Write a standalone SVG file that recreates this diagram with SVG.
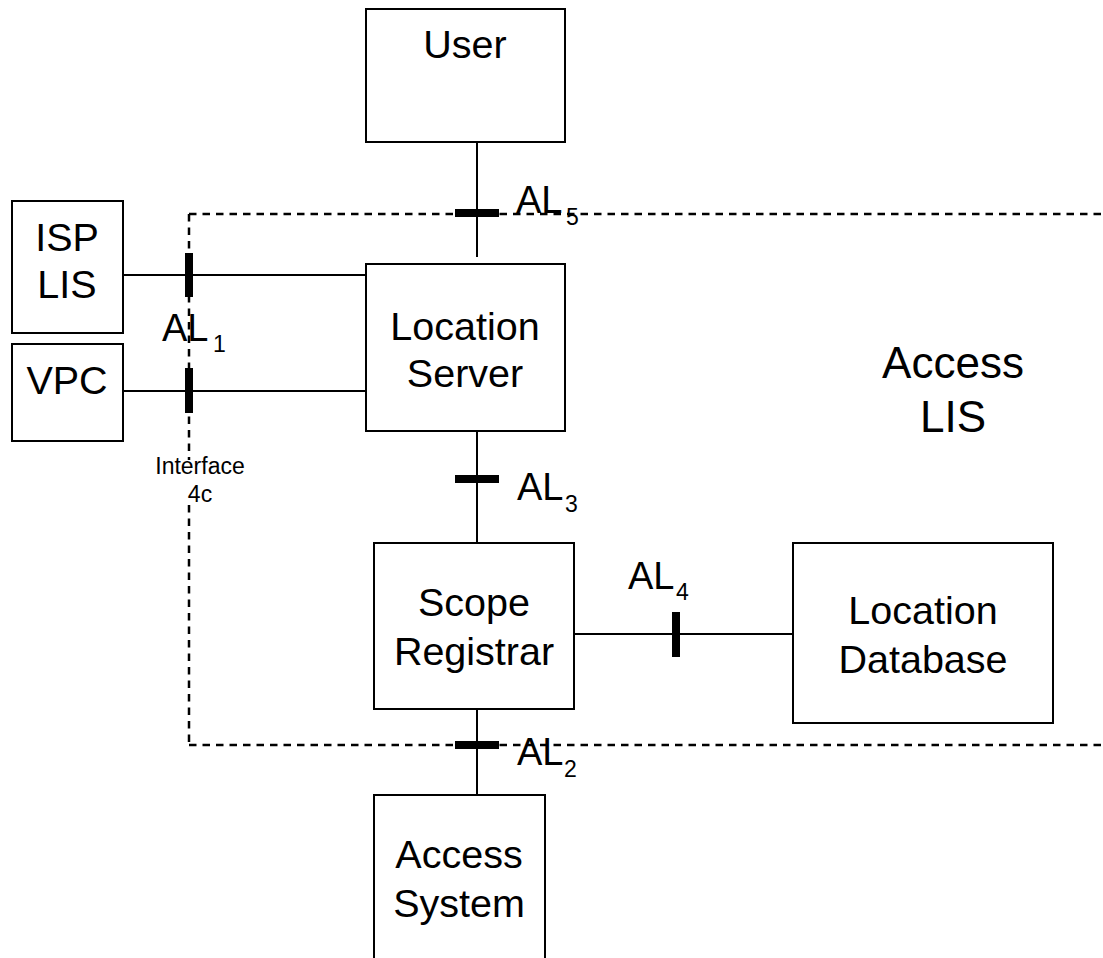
<svg xmlns="http://www.w3.org/2000/svg" width="1103" height="958" viewBox="0 0 1103 958">
<style>
  .box { fill: #ffffff; stroke: #000000; stroke-width: 2; }
  .lbl { font-family: "Liberation Sans", Arial, sans-serif; font-size: 39.5px; fill: #000000; text-anchor: middle; }
  .big { font-family: "Liberation Sans", Arial, sans-serif; font-size: 44px; fill: #000000; text-anchor: middle; }
  .al { font-family: "Liberation Sans", Arial, sans-serif; font-size: 38px; fill: #000000; }
  .sub { font-family: "Liberation Sans", Arial, sans-serif; font-size: 23px; fill: #000000; }
  .small { font-family: "Liberation Sans", Arial, sans-serif; font-size: 23px; fill: #000000; text-anchor: middle; }
  .line { stroke: #000000; stroke-width: 2; fill: none; }
  .dash { stroke: #000000; stroke-width: 2.5; fill: none; stroke-dasharray: 7.5 6; }
  .tick { stroke: #000000; stroke-width: 8; fill: none; }
</style>
<rect width="1103" height="958" fill="#ffffff"/>

<g id="boundary">
  <path class="dash" d="M189,214 H1103"/>
  <path class="dash" d="M189,745 H1103"/>
  <path class="dash" d="M189,214 V460"/>
  <path class="dash" d="M189,505 V745"/>
  <text class="big" x="953" y="378">Access</text>
  <text class="big" x="953" y="432">LIS</text>
  <text class="small" x="200" y="474">Interface</text>
  <text class="small" x="200" y="502">4c</text>
</g>

<g id="connectors">
  <path class="line" d="M477,142 V257"/>
  <path class="line" d="M477,431 V543"/>
  <path class="line" d="M477,709 V795"/>
  <path class="line" d="M123,275 H366"/>
  <path class="line" d="M123,391 H366"/>
  <path class="line" d="M566,634 H793"/>
  <path class="tick" d="M455,213 H499"/>
  <path class="tick" d="M455,479 H499"/>
  <path class="tick" d="M455,745 H499"/>
  <path class="tick" d="M189,253 V297"/>
  <path class="tick" d="M189,368 V413"/>
  <path class="tick" d="M676,612 V657"/>
  <text class="al" x="516" y="213">AL</text><text class="sub" x="566" y="225">5</text>
  <text class="al" x="162" y="341">AL</text><text class="sub" x="213" y="352">1</text>
  <text class="al" x="517" y="500">AL</text><text class="sub" x="565" y="512">3</text>
  <text class="al" x="628" y="589">AL</text><text class="sub" x="676" y="600">4</text>
  <text class="al" x="517" y="765">AL</text><text class="sub" x="564" y="777">2</text>
</g>

<g id="user">
  <rect class="box" x="366" y="9" width="199" height="133"/>
  <text class="lbl" x="465" y="58">User</text>
</g>
<g id="isp-lis">
  <rect class="box" x="12" y="201" width="111" height="132"/>
  <text class="lbl" x="67" y="251">ISP</text>
  <text class="lbl" x="67" y="298">LIS</text>
</g>
<g id="vpc">
  <rect class="box" x="12" y="344" width="111" height="97"/>
  <text class="lbl" x="67" y="394">VPC</text>
</g>
<g id="location-server">
  <rect class="box" x="366" y="264" width="199" height="167"/>
  <text class="lbl" x="465" y="340">Location</text>
  <text class="lbl" x="465" y="387">Server</text>
</g>
<g id="scope-registrar">
  <rect class="box" x="374" y="543" width="200" height="166"/>
  <text class="lbl" x="474" y="616">Scope</text>
  <text class="lbl" x="474" y="665">Registrar</text>
</g>
<g id="location-database">
  <rect class="box" x="793" y="543" width="260" height="180"/>
  <text class="lbl" x="923" y="624">Location</text>
  <text class="lbl" x="923" y="673">Database</text>
</g>
<g id="access-system">
  <rect class="box" x="374" y="795" width="171" height="180"/>
  <text class="lbl" x="459" y="868">Access</text>
  <text class="lbl" x="459" y="917">System</text>
</g>
</svg>
